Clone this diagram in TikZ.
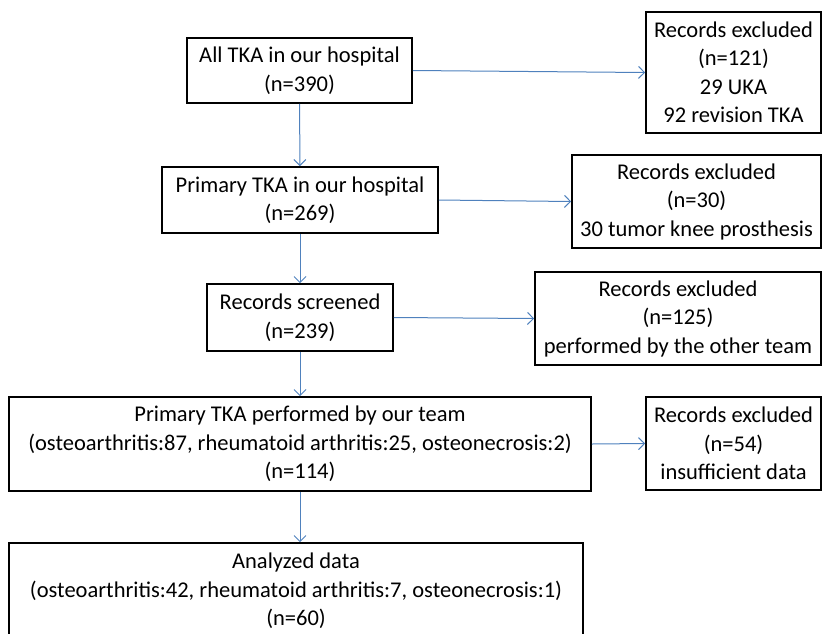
\documentclass[tikz,border=0pt]{standalone}
\usepackage{fontspec}
\setmainfont{Carlito}
\usetikzlibrary{arrows.meta}
\definecolor{arrowblue}{RGB}{79,129,189}
\tikzset{
  box/.style={draw, line width=1.6pt, align=center, inner sep=0pt},
  flow/.style={-{Straight Barb[length=6pt,width=12pt]}, draw=arrowblue, line width=1pt}
}
\begin{document}
\begin{tikzpicture}[x=1pt, y=-1pt, font=\fontsize{22.5}{28.5}\selectfont]
    \useasboundingbox (0,0) rectangle (822,633);
    % main column
    \node [box, minimum width=225, minimum height=65] (all) at (299.5, 70.5) {All TKA in our hospital\\(n=390)};
    \node [box, minimum width=276, minimum height=66] (primary) at (300, 200) {Primary TKA in our hospital\\(n=269)};
    \node [box, minimum width=186, minimum height=67] (screened) at (300, 317.5) {Records screened\\(n=239)};
    \node [box, minimum width=582, minimum height=94] (team) at (300, 444) {Primary TKA performed by our team\\(osteoarthritis:87, rheumatoid arthritis:25, osteonecrosis:2)\\(n=114)};
    \node [box, minimum width=574, minimum height=96] (analyzed) at (296, 591) {Analyzed data\\(osteoarthritis:42, rheumatoid arthritis:7, osteonecrosis:1)\\(n=60)};
    % excluded records
    \node [box, minimum width=175, minimum height=121] (excl1) at (733.5, 72.5) {Records excluded\\(n=121)\\29 UKA\\92 revision TKA};
    \node [box, minimum width=249, minimum height=93] (excl2) at (696.5, 201.5) {Records excluded\\(n=30)\\30 tumor knee prosthesis};
    \node [box, minimum width=286, minimum height=93] (excl3) at (678, 318.5) {Records excluded\\(n=125)\\performed by the other team};
    \node [box, minimum width=175, minimum height=93] (excl4) at (733.5, 443.5) {Records excluded\\(n=54)\\insufficient data};
    % arrows
    \draw [flow] (all) -- (primary);
    \draw [flow] (primary) -- (screened);
    \draw [flow] (screened) -- (team);
    \draw [flow] (team.south) -- (team.south |- analyzed.north);
    \draw [flow] (all.east) -- (excl1.west);
    \draw [flow] (primary.east) -- (excl2.west);
    \draw [flow] (screened.east) -- (excl3.west);
    \draw [flow] (team.east) -- (excl4.west);
  \end{tikzpicture}
\end{document}
